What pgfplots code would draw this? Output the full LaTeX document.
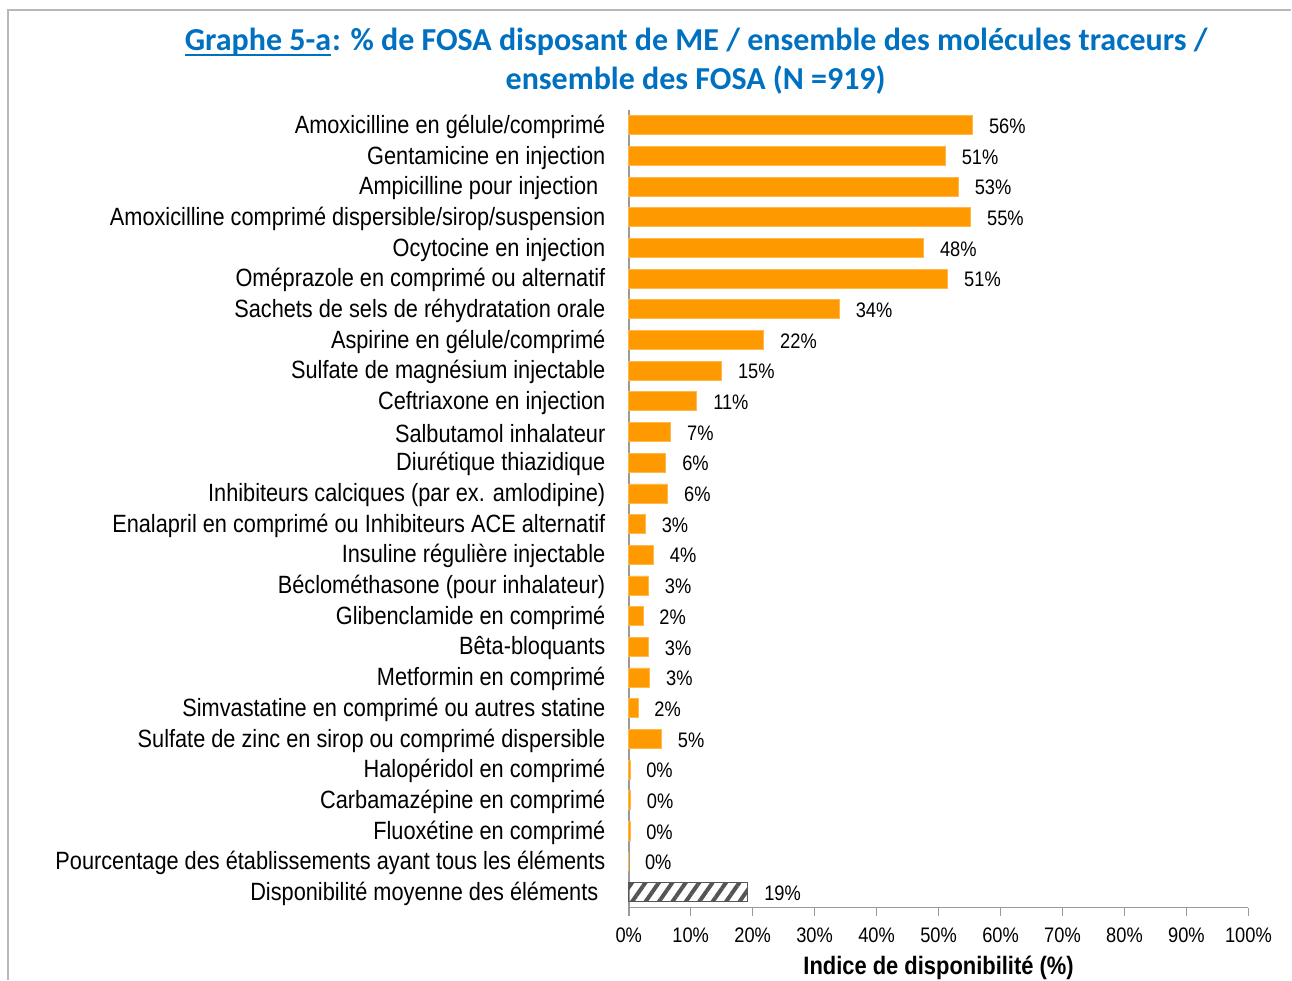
\documentclass[border=0pt]{standalone}
\usepackage{fontspec}
\setmainfont{Liberation Sans}[FakeStretch=0.87]
\newfontfamily\titlefont{Carlito}
\usepackage{pgfplots}
\pgfplotsset{compat=1.18}
\usepackage{pgfplotstable}
\usetikzlibrary{patterns.meta}
\definecolor{barorange}{HTML}{FF9900}
\definecolor{titleblue}{HTML}{0070C0}
\definecolor{axgray}{HTML}{9A9A9A}
\definecolor{hatchgray}{HTML}{555555}

% y = 25 - row index (top row first)
\pgfplotstableread{
y x lab
25 55.5 56
24 51.1 51
23 53.2 53
22 55.2 55
21 47.6 48
20 51.5 51
19 34.0 34
18 21.8 22
17 15.0 15
16 11.0 11
15 6.8 7
14 6.0 6
13 6.3 6
12 2.7 3
11 4.0 4
10 3.2 3
9 2.3 2
8 3.2 3
7 3.4 3
6 1.5 2
5 5.3 5
4 0.2 0
3 0.3 0
2 0.2 0
1 0.0 0
}\dataA
\pgfplotstableread{
y x lab
0 19.2 19
}\dataB

\newcommand{\blueul}[1]{\tikz[baseline=(u.base)]{\node[inner sep=0pt,outer sep=0pt] (u) {#1};
  \draw[titleblue, line width=1pt] ([yshift=-2pt]u.base west) -- ([yshift=-2pt]u.base east);}}

\begin{document}
\begin{tikzpicture}[x=1pt,y=1pt]
\path (0,0) rectangle (646,490);
\draw[axgray!70, line width=0.6pt] (4,0) -- (4,485) -- (646,485);
\node[font=\titlefont\bfseries\fontsize{16}{19}\selectfont, text=titleblue, anchor=center] at (348,469)
  {\blueul{Graphe 5-a}: \% de FOSA disposant de ME / ensemble des molécules traceurs /};
\node[font=\titlefont\bfseries\fontsize{16}{19}\selectfont, text=titleblue, anchor=center] at (348,450)
  {ensemble des FOSA (N =919)};
\begin{axis}[
  at={(314.5pt,36pt)}, anchor=south west,
  scale only axis, width=310pt, height=399pt,
  xmin=0, xmax=100, ymin=-0.5, ymax=25.5,
  xbar, bar width=9.5pt, bar shift=0pt,
  axis x line*=bottom, axis y line*=left,
  axis line style={-, axgray, line width=0.8pt},
  xtick={0,10,...,100},
  xticklabel={\pgfmathprintnumber{\tick}\%},
  /pgf/number format/assume math mode=true,
  tick align=outside, major tick length=4pt,
  xtick style={axgray, line width=0.8pt},
  ytick={0,...,25},
  ytick style={draw=none},
  yticklabels={
    Disponibilité moyenne des éléments\hspace*{3.5pt},
    Pourcentage des établissements ayant tous les éléments,
    Fluoxétine en comprimé,
    Carbamazépine en comprimé,
    Halopéridol en comprimé,
    Sulfate de zinc en sirop ou comprimé dispersible,
    Simvastatine en comprimé ou autres statine,
    Metformin en comprimé,
    Bêta-bloquants,
    Glibenclamide en comprimé,
    Béclométhasone (pour inhalateur),
    Insuline régulière injectable,
    Enalapril en comprimé ou Inhibiteurs ACE alternatif,
    Inhibiteurs calciques (par ex. amlodipine),
    Diurétique thiazidique,
    Salbutamol inhalateur,
    Ceftriaxone en injection,
    Sulfate de magnésium injectable,
    Aspirine en gélule/comprimé,
    Sachets de sels de réhydratation orale,
    Oméprazole en comprimé ou alternatif,
    Ocytocine en injection,
    Amoxicilline comprimé dispersible/sirop/suspension,
    Ampicilline pour injection\hspace*{3.5pt},
    Gentamicine en injection,
    Amoxicilline en gélule/comprimé},
  yticklabel style={font=\fontsize{12.5}{13}\selectfont, anchor=east, inner sep=0pt, xshift=-7.5pt, yshift=-0.8pt},
  xticklabel style={font=\fontsize{10.5}{12}\selectfont, inner sep=0pt, yshift=-6pt},
  xlabel={\bfseries Indice de disponibilité (\%)},
  xlabel style={font=\fontsize{12.6}{15}\selectfont, inner sep=0pt, yshift=-6.5pt},
  point meta=explicit symbolic,
  nodes near coords={\pgfplotspointmeta\%},
  nodes near coords style={font=\fontsize{10.5}{12}\selectfont, anchor=west, inner sep=0pt, xshift=8pt, yshift=-0.5pt},
  clip=false,
]
\addplot[fill=barorange, draw=barorange!70!white, line width=0.4pt] table[x=x, y=y, meta=lab] {\dataA};
\addplot[draw=hatchgray, line width=0.6pt,
  pattern={Lines[angle=55, distance=5.5pt, line width=2pt]}, pattern color=hatchgray]
  table[x=x, y=y, meta=lab] {\dataB};
\end{axis}
\end{tikzpicture}
\end{document}
